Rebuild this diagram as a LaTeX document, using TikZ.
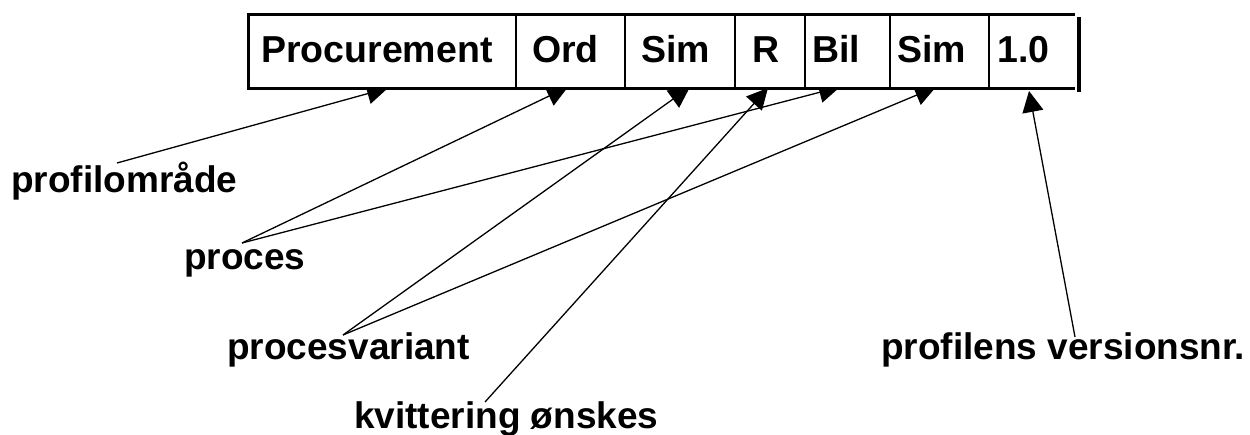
\documentclass[tikz,border=0pt]{standalone}
\usepackage{fontspec}
\setmainfont{Liberation Sans}
\usetikzlibrary{arrows.meta}
\begin{document}
\begin{tikzpicture}[x=1pt,y=-1pt,
  lbl/.style={anchor=base west,inner sep=0pt,font=\fontsize{37}{42}\selectfont\bfseries},
  cell/.style={anchor=base west,inner sep=0pt,font=\fontsize{37.5}{42}\selectfont\bfseries},
  conn/.style={line width=1.3pt,-{Triangle[length=21pt,width=21pt]}},
  boxline/.style={line width=3pt},
  divline/.style={line width=2.6pt}]
\useasboundingbox[fill=white] (0,0) rectangle (1250,435);
% labels
\node[lbl] (omr) at (11,193) {profilområde};
\node[lbl] (proc) at (184,270) {proces};
\node[lbl] (pvar) at (227,360) {procesvariant};
\node[lbl] (kvit) at (354,428) {kvittering ønskes};
\node[lbl] (vers) at (881,360) {profilens versionsnr.};
% connector end points
\coordinate (sOmr) at (117,163);
\coordinate (sProc) at (242,243);
\coordinate (sPvar) at (343,335);
\coordinate (sKvit) at (485,402);
\coordinate (sVers) at (1075,337);
\coordinate (tProc) at (388,88);
\coordinate (tOrd) at (568,87);
\coordinate (tSimA) at (690,87);
\coordinate (tR) at (768,88);
\coordinate (tBil) at (840,87);
\coordinate (tSimB) at (936,87);
\coordinate (tVer) at (1029,91);
% connectors
\draw[conn] (sOmr) -- (tProc);
\draw[conn] (sProc) -- (tOrd);
\draw[conn] (sProc) -- (tBil);
\draw[conn] (sPvar) -- (tSimA);
\draw[conn] (sPvar) -- (tSimB);
\draw[conn] (sKvit) -- (tR);
\draw[conn] (sVers) -- (tVer);
% the field box, drawn over the arrow tips
\fill[white] (248,15) rectangle (1076,89);
\draw[boxline] (1075,15) -- (248,15) -- (248,89) -- (1075,89);
\draw[line width=3.5pt] (1079,17) -- (1079,92);
\foreach \x in {516,625,735,805,890,989}
  \draw[divline] (\x,15) -- (\x,89);
\node[cell] (c1) at (261,63) {Procurement};
\node[cell] (c2) at (532,63) {Ord};
\node[cell] (c3) at (641,63) {Sim};
\node[cell] (c4) at (752,63) {R};
\node[cell] (c5) at (812,63) {Bil};
\node[cell] (c6) at (897,63) {Sim};
\node[cell] (c7) at (997,63) {1.0};
\end{tikzpicture}
\end{document}
